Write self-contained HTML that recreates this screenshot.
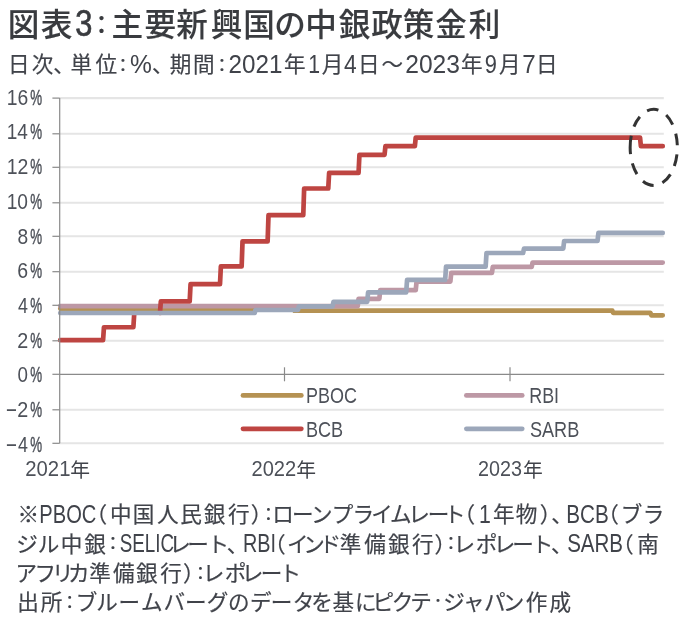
<!DOCTYPE html>
<html lang="ja"><head><meta charset="utf-8"><title>図表3：主要新興国の中銀政策金利</title>
<style>
html,body{margin:0;padding:0;background:#fff;}
body{width:697px;height:622px;overflow:hidden;}
svg{display:block;filter:blur(0.4px);}
text{font-family:"Liberation Sans","Noto Sans CJK JP",sans-serif;fill:#40434a;stroke:#40434a;stroke-width:0.2px;}
.t{font-size:31.6px;font-weight:500;fill:#393b3f;stroke:#393b3f;stroke-width:0.1px;}
.t .l{font-size:36.2px;font-weight:400;stroke-width:0.7px;}
.s{font-size:21.6px;font-weight:400;}
.s .l{font-size:25px;stroke-width:0;}
.n{font-size:21.6px;font-weight:400;}
.n .l{font-size:25px;stroke-width:0;}
.a{font-size:19.8px;font-weight:400;stroke-width:0;}
.a .l{font-size:21.9px;fill:#4d5159;stroke:#4d5159;}
</style></head><body>
<svg width="697" height="622" viewBox="0 0 697 622">
<rect width="697" height="622" fill="#fff"/>

<text class="t"><tspan x="7.65 40.71" y="36.3">図表</tspan><tspan class="l" x="75.33" y="35.5" textLength="17.13" lengthAdjust="spacingAndGlyphs">3</tspan><tspan x="89.1" y="34" font-size="25">：</tspan><tspan x="111.39 144.43 176.36 210.68 243.37 274.16 305.2 338.72 371.23 402.68 435.24 468.85" y="36.3">主要新興国の中銀政策金利</tspan></text>
<text class="s"><tspan x="7.96 31.81 53.16 70.57 95.51" y="72.2">日次、単位</tspan><tspan x="113.75" y="71.7" font-size="18.4">：</tspan><tspan class="l" x="129.92" y="73" textLength="21.85" lengthAdjust="spacingAndGlyphs">%</tspan><tspan x="152.06 169.73 193.09" y="72.2">、期間</tspan><tspan x="212.75" y="71.7" font-size="18.4">：</tspan><tspan class="l" x="228.58" y="73" textLength="53.86" lengthAdjust="spacingAndGlyphs">2021</tspan><tspan x="283.88" y="72.2">年</tspan><tspan class="l" x="308.32" y="73" textLength="11.82" lengthAdjust="spacingAndGlyphs">1</tspan><tspan x="321.67" y="72.2">月</tspan><tspan class="l" x="343.98" y="73" textLength="12.69" lengthAdjust="spacingAndGlyphs">4</tspan><tspan x="358.11 381.6" y="72.2">日～</tspan><tspan class="l" x="405.26" y="73" textLength="54.72" lengthAdjust="spacingAndGlyphs">2023</tspan><tspan x="460.98" y="72.2">年</tspan><tspan class="l" x="484.78" y="73" textLength="12.16" lengthAdjust="spacingAndGlyphs">9</tspan><tspan x="499.12" y="72.2">月</tspan><tspan class="l" x="522.36" y="73" textLength="13.46" lengthAdjust="spacingAndGlyphs">7</tspan><tspan x="535.91" y="72.2">日</tspan></text>
<line x1="59.7" x2="663.8" y1="443.3" y2="443.3" stroke="#e5e5e5" stroke-width="2.1"/>
<line x1="59.7" x2="663.8" y1="409.8" y2="409.8" stroke="#e5e5e5" stroke-width="2.1"/>
<line x1="59.7" x2="663.8" y1="340.8" y2="340.8" stroke="#e5e5e5" stroke-width="2.1"/>
<line x1="59.7" x2="663.8" y1="305.3" y2="305.3" stroke="#e5e5e5" stroke-width="2.1"/>
<line x1="59.7" x2="663.8" y1="271.7" y2="271.7" stroke="#e5e5e5" stroke-width="2.1"/>
<line x1="59.7" x2="663.8" y1="236.3" y2="236.3" stroke="#e5e5e5" stroke-width="2.1"/>
<line x1="59.7" x2="663.8" y1="202.8" y2="202.8" stroke="#e5e5e5" stroke-width="2.1"/>
<line x1="59.7" x2="663.8" y1="167.3" y2="167.3" stroke="#e5e5e5" stroke-width="2.1"/>
<line x1="59.7" x2="663.8" y1="133.8" y2="133.8" stroke="#e5e5e5" stroke-width="2.1"/>
<line x1="59.7" x2="663.8" y1="98.1" y2="98.1" stroke="#e5e5e5" stroke-width="2.1"/>
<path d="M60.20,308.60 L273.69,308.60 L274.56,309.20 L293.61,309.20 L294.48,310.70 L425.25,310.70 L426.12,310.70 L612.32,310.70 L613.19,312.90 L650.42,312.90 L651.29,315.30 L662.75,315.30" fill="none" stroke="#b59253" stroke-width="4.7" stroke-linejoin="round" stroke-linecap="round"/>
<path d="M60.20,306.10 L357.70,306.10 L358.57,298.78 L379.35,298.78 L380.22,290.16 L415.72,290.16 L416.59,281.54 L450.36,281.54 L451.23,272.92 L491.94,272.92 L492.81,266.88 L531.71,266.88 L532.58,262.57 L662.75,262.57" fill="none" stroke="#bd98a5" stroke-width="4.7" stroke-linejoin="round" stroke-linecap="round"/>
<path d="M60.20,340.16 L103.08,340.16 L103.95,327.23 L133.39,327.23 L134.26,313.00 M159.97,313.00 L160.84,301.37 L189.69,301.37 L190.56,284.12 L220.00,284.12 L220.87,266.40 L241.65,266.40 L242.52,241.40 L267.63,241.40 L268.50,215.15 L303.27,215.15 L304.14,188.50 L328.25,188.50 L329.12,172.90 L358.56,172.90 L359.43,154.80 L384.55,154.80 L385.42,146.18 L414.86,146.18 L415.73,137.56 L640.03,137.56 L640.90,146.18 L662.75,146.18" fill="none" stroke="#be4542" stroke-width="4.7" stroke-linejoin="round" stroke-linecap="round"/>
<path d="M60.20,313.00 L254.64,313.00 L255.51,310.00 L297.94,310.00 L298.81,306.40 L332.58,306.40 L333.45,301.90 L367.22,301.90 L368.09,292.40 L406.20,292.40 L407.07,279.80 L445.17,279.80 L446.04,266.60 L485.64,266.60 L486.51,253.00 L523.11,253.00 L523.98,248.60 L563.28,248.60 L564.15,241.00 L597.53,241.00 L598.40,232.90 L662.75,232.90" fill="none" stroke="#9ca7ba" stroke-width="4.7" stroke-linejoin="round" stroke-linecap="round"/>
<line x1="59.7" x2="59.7" y1="98.1" y2="443.3" stroke="#8a8a8a" stroke-width="1.2"/>
<line x1="59.7" x2="664.2" y1="374.3" y2="374.3" stroke="#8a8a8a" stroke-width="1.2"/>
<line x1="52.400000000000006" x2="59.7" y1="443.3" y2="443.3" stroke="#8a8a8a" stroke-width="1.2"/>
<line x1="52.400000000000006" x2="59.7" y1="409.8" y2="409.8" stroke="#8a8a8a" stroke-width="1.2"/>
<line x1="52.400000000000006" x2="59.7" y1="374.3" y2="374.3" stroke="#8a8a8a" stroke-width="1.2"/>
<line x1="52.400000000000006" x2="59.7" y1="340.8" y2="340.8" stroke="#8a8a8a" stroke-width="1.2"/>
<line x1="52.400000000000006" x2="59.7" y1="305.3" y2="305.3" stroke="#8a8a8a" stroke-width="1.2"/>
<line x1="52.400000000000006" x2="59.7" y1="271.7" y2="271.7" stroke="#8a8a8a" stroke-width="1.2"/>
<line x1="52.400000000000006" x2="59.7" y1="236.3" y2="236.3" stroke="#8a8a8a" stroke-width="1.2"/>
<line x1="52.400000000000006" x2="59.7" y1="202.8" y2="202.8" stroke="#8a8a8a" stroke-width="1.2"/>
<line x1="52.400000000000006" x2="59.7" y1="167.3" y2="167.3" stroke="#8a8a8a" stroke-width="1.2"/>
<line x1="52.400000000000006" x2="59.7" y1="133.8" y2="133.8" stroke="#8a8a8a" stroke-width="1.2"/>
<line x1="52.400000000000006" x2="59.7" y1="98.1" y2="98.1" stroke="#8a8a8a" stroke-width="1.2"/>
<line x1="284.5" x2="284.5" y1="367.3" y2="381.3" stroke="#8a8a8a" stroke-width="1.2"/>
<line x1="510.0" x2="510.0" y1="367.3" y2="381.3" stroke="#8a8a8a" stroke-width="1.2"/>
<text class="a"><tspan class="l" x="6.67" y="104.7" textLength="21.48" lengthAdjust="spacingAndGlyphs">16</tspan><tspan class="l" x="30.32" y="104.7" stroke-width="0.45" textLength="11.85" lengthAdjust="spacingAndGlyphs">%</tspan></text>
<text class="a"><tspan class="l" x="6.7" y="139.41" textLength="21.16" lengthAdjust="spacingAndGlyphs">14</tspan><tspan class="l" x="30.32" y="139.41" stroke-width="0.45" textLength="11.85" lengthAdjust="spacingAndGlyphs">%</tspan></text>
<text class="a"><tspan class="l" x="6.66" y="174.12" textLength="21.62" lengthAdjust="spacingAndGlyphs">12</tspan><tspan class="l" x="30.32" y="174.12" stroke-width="0.45" textLength="11.85" lengthAdjust="spacingAndGlyphs">%</tspan></text>
<text class="a"><tspan class="l" x="6.68" y="208.83" textLength="21.37" lengthAdjust="spacingAndGlyphs">10</tspan><tspan class="l" x="30.32" y="208.83" stroke-width="0.45" textLength="11.85" lengthAdjust="spacingAndGlyphs">%</tspan></text>
<text class="a"><tspan class="l" x="17.47" y="243.54" textLength="10.67" lengthAdjust="spacingAndGlyphs">8</tspan><tspan class="l" x="30.32" y="243.54" stroke-width="0.45" textLength="11.85" lengthAdjust="spacingAndGlyphs">%</tspan></text>
<text class="a"><tspan class="l" x="17.31" y="278.25" textLength="10.85" lengthAdjust="spacingAndGlyphs">6</tspan><tspan class="l" x="30.32" y="278.25" stroke-width="0.45" textLength="11.85" lengthAdjust="spacingAndGlyphs">%</tspan></text>
<text class="a"><tspan class="l" x="17.89" y="312.96" textLength="9.93" lengthAdjust="spacingAndGlyphs">4</tspan><tspan class="l" x="30.32" y="312.96" stroke-width="0.45" textLength="11.85" lengthAdjust="spacingAndGlyphs">%</tspan></text>
<text class="a"><tspan class="l" x="17.31" y="347.67" textLength="10.99" lengthAdjust="spacingAndGlyphs">2</tspan><tspan class="l" x="30.32" y="347.67" stroke-width="0.45" textLength="11.85" lengthAdjust="spacingAndGlyphs">%</tspan></text>
<text class="a"><tspan class="l" x="17.56" y="382.38" textLength="10.47" lengthAdjust="spacingAndGlyphs">0</tspan><tspan class="l" x="30.32" y="382.38" stroke-width="0.45" textLength="11.85" lengthAdjust="spacingAndGlyphs">%</tspan></text>
<text class="a"><tspan class="l" x="5.34" y="415.79" textLength="12.41" lengthAdjust="spacingAndGlyphs">-</tspan><tspan class="l" x="17.31" y="417.09" textLength="10.99" lengthAdjust="spacingAndGlyphs">2</tspan><tspan class="l" x="30.32" y="417.09" stroke-width="0.45" textLength="11.85" lengthAdjust="spacingAndGlyphs">%</tspan></text>
<text class="a"><tspan class="l" x="5.34" y="450.5" textLength="12.41" lengthAdjust="spacingAndGlyphs">-</tspan><tspan class="l" x="17.89" y="451.8" textLength="9.93" lengthAdjust="spacingAndGlyphs">4</tspan><tspan class="l" x="30.32" y="451.8" stroke-width="0.45" textLength="11.85" lengthAdjust="spacingAndGlyphs">%</tspan></text>
<text class="a"><tspan class="l" x="25.28" y="475.8" textLength="45.17" lengthAdjust="spacingAndGlyphs">2021</tspan><tspan x="70.33" y="476.5">年</tspan></text>
<text class="a"><tspan class="l" x="251.49" y="475.8" textLength="44.72" lengthAdjust="spacingAndGlyphs">2022</tspan><tspan x="296.18" y="476.5">年</tspan></text>
<text class="a"><tspan class="l" x="478.01" y="475.8" textLength="43.96" lengthAdjust="spacingAndGlyphs">2023</tspan><tspan x="522.88" y="476.5">年</tspan></text>
<line x1="243" x2="301.3" y1="395.4" y2="395.4" stroke="#b59253" stroke-width="4.8" stroke-linecap="round"/>
<text class="a"><tspan class="l" x="305.92" y="402.8" textLength="50.96" lengthAdjust="spacingAndGlyphs">PBOC</tspan></text>
<line x1="243" x2="301.3" y1="428.8" y2="428.8" stroke="#be4542" stroke-width="4.8" stroke-linecap="round"/>
<text class="a"><tspan class="l" x="305.91" y="436.5" textLength="37.24" lengthAdjust="spacingAndGlyphs">BCB</tspan></text>
<line x1="466.4" x2="522.1999999999999" y1="395.4" y2="395.4" stroke="#bd98a5" stroke-width="4.8" stroke-linecap="round"/>
<text class="a"><tspan class="l" x="529.23" y="402.8" textLength="29.82" lengthAdjust="spacingAndGlyphs">RBI</tspan></text>
<line x1="466.4" x2="522.1999999999999" y1="428.8" y2="428.8" stroke="#9ca7ba" stroke-width="4.8" stroke-linecap="round"/>
<text class="a"><tspan class="l" x="529.88" y="436.5" textLength="49.38" lengthAdjust="spacingAndGlyphs">SARB</tspan></text>
<path d="M630.15,147.4 A23.6,38.0 0 1 1 677.35,147.4 A23.6,38.0 0 1 1 630.15,147.4" fill="none" stroke="#333" stroke-width="3.0" stroke-dasharray="11.7 9.3"/>
<text class="n"><tspan x="17.45" y="522.4">※</tspan><tspan class="l" x="39.35" y="522.6" textLength="57.02" lengthAdjust="spacingAndGlyphs">PBOC</tspan><tspan x="85.59 109.92 132.85 156.89 180.22 203.69 228.12 250.71" y="522.4">（中国人民銀行）</tspan><tspan x="259.3" y="521.3" font-size="18.4">：</tspan><tspan x="272.25 291.96 310.91 331.77 352.54 371.2 390.11 408.36 427.86 443.9 453.59" y="522.4">ローンプライムレート（</tspan><tspan class="l" x="479.02" y="522.6" textLength="11.82" lengthAdjust="spacingAndGlyphs">1</tspan><tspan x="492.88 515.77 539.66 551.21" y="522.4">年物）、</tspan><tspan class="l" x="566.31" y="522.6" textLength="42.48" lengthAdjust="spacingAndGlyphs">BCB</tspan><tspan x="597.19 620.81 642.69" y="522.4">（ブラ</tspan></text>
<text class="n"><tspan x="16.31 37.71 60.77 84.19" y="551.5">ジル中銀</tspan><tspan x="103.7" y="550.4" font-size="18.4">：</tspan><tspan class="l" x="119.75" y="551.7" textLength="54.37" lengthAdjust="spacingAndGlyphs">SELIC</tspan><tspan x="169.21 187.16 207.6 226.76" y="551.5">レート、</tspan><tspan class="l" x="242.97" y="551.7" textLength="33.06" lengthAdjust="spacingAndGlyphs">RBI</tspan><tspan x="264.09 286.9 303.31 319.44 339.7 364.17 387.89 412.07 434.41" y="551.5">（インド準備銀行）</tspan><tspan x="441.75" y="550.4" font-size="18.4">：</tspan><tspan x="453.46 475.82 493.66 512.26 531.7 550.91" y="551.5">レポレート、</tspan><tspan class="l" x="567.17" y="551.7" textLength="55.92" lengthAdjust="spacingAndGlyphs">SARB</tspan><tspan x="611.99 637.34" y="551.5">（南</tspan></text>
<text class="n"><tspan x="15.41 34.44 52.04 68.04 89.25 112.97 136.04 160.22 183.06" y="580.6">アフリカ準備銀行）</tspan><tspan x="191.3" y="579.5" font-size="18.4">：</tspan><tspan x="202.76 224.77 241.81 260.86 279.6" y="580.6">レポレート</tspan></text>
<text class="n"><tspan x="17.24 40.68" y="609.7">出所</tspan><tspan x="60.6" y="608.6" font-size="18.4">：</tspan><tspan x="75.66 96.31 118.56 140.96 163.6 184.96 206.73 227.94 249.96 270.86 292.78 311.15 332.57 355.1 372.52 391.66 410.34" y="609.7">ブルームバーグのデータを基にピクテ</tspan><tspan x="431.5" y="605.4" font-size="13">・</tspan><tspan x="443.16 463.03 484.03 502.86 525.72 549.55" y="609.7">ジャパン作成</tspan></text>
</svg>
</body></html>
